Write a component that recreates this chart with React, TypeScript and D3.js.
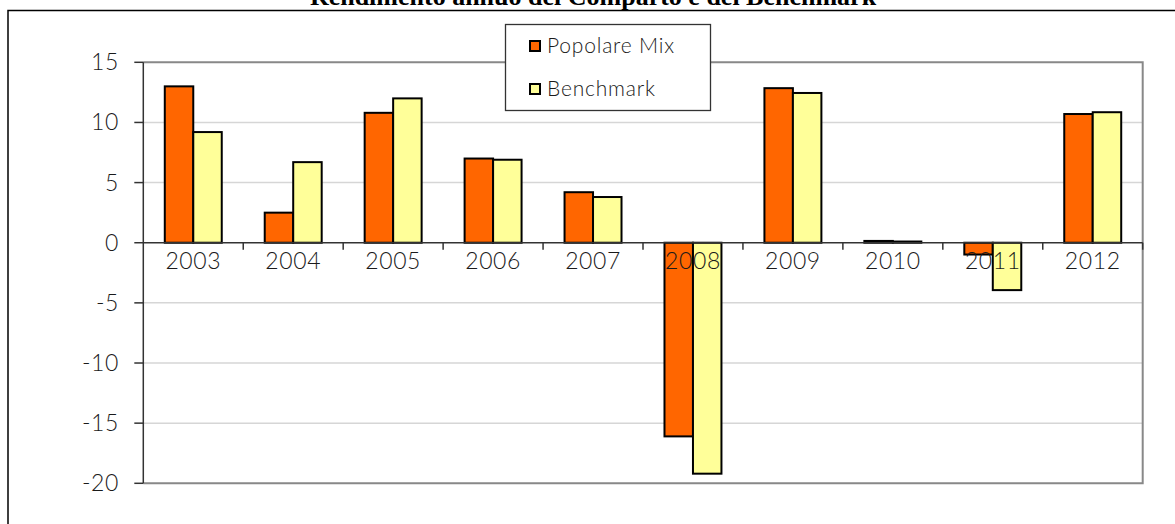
import React from "react";
import * as d3 from "d3";

const years = ["2003", "2004", "2005", "2006", "2007", "2008", "2009", "2010", "2011", "2012"];
const seriesNames = ["Popolare Mix", "Benchmark"];
const popolareMix = [13.0, 2.5, 10.8, 7.0, 4.2, -16.1, 12.85, 0.15, -0.98, 10.7];
const benchmark = [9.2, 6.7, 12.0, 6.9, 3.8, -19.2, 12.45, 0.1, -3.94, 10.85];
const yTicks = [15, 10, 5, 0, -5, -10, -15, -20];

const colors = ["#FF6600", "#FFFF99"];
const W = 1175;
const H = 524;
const left = 143.3;
const right = 1142.7;
const top = 62.3;
const bottom = 483.3;
const font = "Lato, 'Open Sans', sans-serif";

function App() {
  const x = d3.scaleBand<string>().domain(years).range([left, right]).padding(0);
  const y = d3.scaleLinear().domain([-20, 15]).range([bottom, top]);
  const bw = x.bandwidth();
  const x1 = d3.scaleBand<string>().domain(seriesNames).range([bw * 0.215, bw * 0.785]).padding(0);
  const values = [popolareMix, benchmark];
  const y0 = y(0);

  return (
    <svg width={W} height={H} style={{ position: "absolute", left: 0, top: 0, background: "#fff" }}>
      {/* title, partly cut off at the top as in the source page */}
      <text x={593} y={5} textAnchor="middle" fontFamily="'Liberation Serif', 'Times New Roman', serif"
        fontWeight="bold" fontSize={26} fill="#000">
        Rendimento annuo del Comparto e del Benchmark
      </text>
      {/* outer frame */}
      <rect x={8} y={10.5} width={1200} height={600} fill="none" stroke="#000" strokeWidth={1.5} />

      {/* gridlines */}
      {yTicks.filter((t) => t !== 0 && t !== 15 && t !== -20).map((t) => (
        <line key={t} x1={left} x2={right} y1={y(t)} y2={y(t)} stroke="#d6d6d6" strokeWidth={1.5} />
      ))}
      {/* plot border */}
      <path d={`M${left},${top}H${right}V${bottom}H${left}`} fill="none" stroke="#888" strokeWidth={2} />

      {/* bars */}
      {years.map((yr, i) => (
        <g key={yr} transform={`translate(${x(yr)},0)`}>
          {seriesNames.map((s, j) => {
            const v = values[j][i];
            return (
              <rect key={s} x={x1(s)} width={x1.bandwidth()}
                y={Math.min(y(v), y0)} height={Math.max(Math.abs(y(v) - y0), 0.5)}
                fill={colors[j]} stroke="#000" strokeWidth={2} />
            );
          })}
        </g>
      ))}

      {/* zero axis and category ticks */}
      <line x1={left} x2={right} y1={y0} y2={y0} stroke="#333" strokeWidth={1.5} />
      {years.map((yr) => (
        <line key={yr} x1={x(yr)! + bw} x2={x(yr)! + bw} y1={y0} y2={y0 + 7} stroke="#333" strokeWidth={1.5} />
      ))}
      {years.map((yr) => (
        <text key={yr} x={x(yr)! + bw / 2} y={y0 + 26} textAnchor="middle"
          fontFamily={font} fontWeight={300} fontSize={23} letterSpacing={0.6} fill="#1a1a1a">
          {yr}
        </text>
      ))}

      {/* y axis */}
      <line x1={left} x2={left} y1={top} y2={bottom} stroke="#333" strokeWidth={1.5} />
      {yTicks.map((t) => (
        <g key={t}>
          <line x1={left - 9} x2={left} y1={y(t)} y2={y(t)} stroke="#333" strokeWidth={1.5} />
          <text x={119} y={y(t)} dy="0.35em" textAnchor="end"
            fontFamily={font} fontWeight={300} fontSize={23} letterSpacing={0.6} fill="#1a1a1a">
            {t}
          </text>
        </g>
      ))}

      {/* legend */}
      <rect x={505.5} y={24.5} width={205} height={86} fill="#fff" stroke="#333" strokeWidth={1.3} />
      {seriesNames.map((s, j) => (
        <g key={s} transform={`translate(530,${46 + j * 43})`}>
          <rect x={0} y={-5} width={10} height={10} fill={colors[j]} stroke="#000" strokeWidth={2} />
          <text x={17} y={0} dy="0.35em" fontFamily={font} fontWeight={300} fontSize={21}
            letterSpacing={0.8} fill="#1a1a1a">
            {s}
          </text>
        </g>
      ))}
    </svg>
  );
}

export default App;
